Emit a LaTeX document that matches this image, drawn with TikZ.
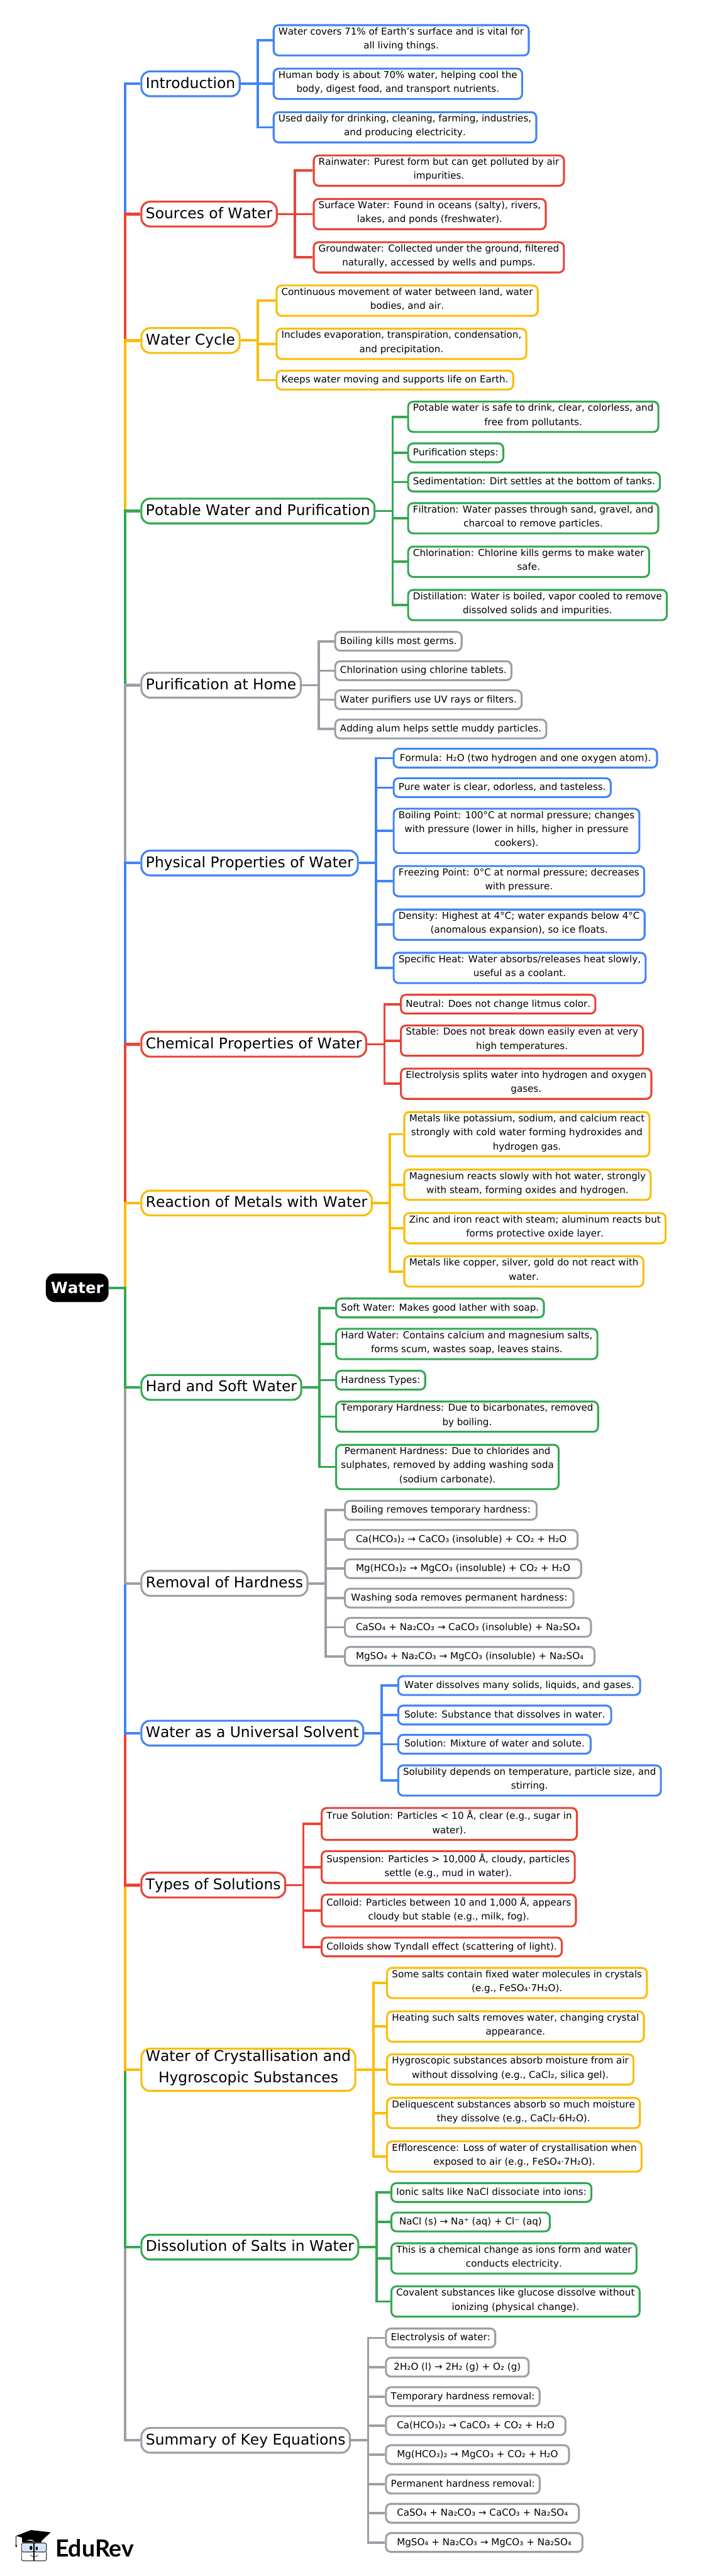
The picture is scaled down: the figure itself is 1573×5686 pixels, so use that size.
\documentclass[tikz,border=0pt]{standalone}
\usepackage{fontspec}
\setmainfont{DejaVu Sans}[Kerning=Off]
\newfontfamily\logofont{Lato}
\definecolor{cblue}{HTML}{4285F4}
\definecolor{cred}{HTML}{EA4335}
\definecolor{cyell}{HTML}{FBBC04}
\definecolor{cgreen}{HTML}{34A853}
\definecolor{cgrey}{HTML}{9AA0A6}
\begin{document}
\begin{tikzpicture}[
x=1pt,y=-1pt,
leaf/.style={draw=#1, fill=white, line width=4.3pt, rounded corners=11pt, anchor=west, align=center,
  inner xsep=10.8pt, inner ysep=5.3pt, font=\fontsize{21}{31}\selectfont,
  execute at begin node=\strut, execute at end node=\strut},
wide/.style={inner xsep=13.5pt},
topic/.style={draw=#1, fill=white, line width=4.3pt, rounded corners=19pt, anchor=west, align=center,
  inner xsep=9.8pt, inner ysep=3.6pt, font=\fontsize{32.5}{47.5}\selectfont,
  execute at begin node=\strut, execute at end node=\strut},
wire/.style={color=#1, line width=5.2pt},
elbow/.style={to path={(\tikztostart.east) -- ++(#1,0) |- (\tikztotarget.west)}},
elbow/.default=38,
]
\useasboundingbox (0,0) rectangle (1573,5686);

\node[fill=black, text=white, rounded corners=20pt, anchor=west, inner xsep=11pt, inner ysep=0pt,
  minimum height=63pt, font=\fontsize{34}{40}\selectfont\bfseries] (root) at (101,2842.5) {Water};

\node[topic=cblue] (intro) at (310,185) {Introduction};
\node[leaf=cblue] (a1) at (602,89) {Water covers 71\% of Earth's surface and is vital for\\all living things.};
\node[leaf=cblue] (a2) at (602,185) {Human body is about 70\% water, helping cool the\\body, digest food, and transport nutrients.};
\node[leaf=cblue] (a3) at (602,281) {Used daily for drinking, cleaning, farming, industries,\\and producing electricity.};

\node[topic=cred] (srcs) at (310,472.5) {Sources of Water};
\node[leaf=cred] (b1) at (690.5,376.5) {Rainwater: Purest form but can get polluted by air\\impurities.};
\node[leaf=cred] (b2) at (690.5,472.5) {Surface Water: Found in oceans (salty), rivers,\\lakes, and ponds (freshwater).};
\node[leaf=cred] (b3) at (690.5,568) {Groundwater: Collected under the ground, filtered\\naturally, accessed by wells and pumps.};

\node[topic=cyell] (cycle) at (310,751.5) {Water Cycle};
\node[leaf=cyell] (c1) at (608.5,663.5) {Continuous movement of water between land, water\\bodies, and air.};
\node[leaf=cyell] (c2) at (608.5,759) {Includes evaporation, transpiration, condensation,\\and precipitation.};
\node[leaf=cyell] (c3) at (608.5,839) {Keeps water moving and supports life on Earth.};

\node[topic=cgreen] (pot) at (310,1128) {Potable Water and Purification};
\node[leaf=cgreen] (d1) at (899,920) {Potable water is safe to drink, clear, colorless, and\\free from pollutants.};
\node[leaf=cgreen] (d2) at (899,999.5) {Purification steps:};
\node[leaf=cgreen] (d3) at (899,1064) {Sedimentation: Dirt settles at the bottom of tanks.};
\node[leaf=cgreen] (d4) at (899,1144) {Filtration: Water passes through sand, gravel, and\\charcoal to remove particles.};
\node[leaf=cgreen] (d5) at (899,1240) {Chlorination: Chlorine kills germs to make water\\safe.};
\node[leaf=cgreen] (d6) at (899,1335.5) {Distillation: Water is boiled, vapor cooled to remove\\dissolved solids and impurities.};

\node[topic=cgrey] (home) at (310,1512.5) {Purification at Home};
\node[leaf=cgrey] (e1) at (738,1415.5) {Boiling kills most germs.};
\node[leaf=cgrey] (e2) at (738,1480.5) {Chlorination using chlorine tablets.};
\node[leaf=cgrey] (e3) at (738,1544.5) {Water purifiers use UV rays or filters.};
\node[leaf=cgrey] (e4) at (738,1609) {Adding alum helps settle muddy particles.};

\node[topic=cblue] (phys) at (310,1905) {Physical Properties of Water};
\node[leaf=cblue,wide] (f1) at (867,1673.5) {Formula: H₂O (two hydrogen and one oxygen atom).};
\node[leaf=cblue] (f2) at (867,1738.5) {Pure water is clear, odorless, and tasteless.};
\node[leaf=cblue] (f3) at (867,1834) {Boiling Point: 100°C at normal pressure; changes\\with pressure (lower in hills, higher in pressure\\cookers).};
\node[leaf=cblue] (f4) at (867,1945) {Freezing Point: 0°C at normal pressure; decreases\\with pressure.};
\node[leaf=cblue] (f5) at (867,2041) {Density: Highest at 4°C; water expands below 4°C\\(anomalous expansion), so ice floats.};
\node[leaf=cblue] (f6) at (867,2136.5) {Specific Heat: Water absorbs/releases heat slowly,\\useful as a coolant.};

\node[topic=cred] (chem) at (310,2305) {Chemical Properties of Water};
\node[leaf=cred] (g1) at (883,2216.5) {Neutral: Does not change litmus color.};
\node[leaf=cred] (g2) at (883,2297) {Stable: Does not break down easily even at very\\high temperatures.};
\node[leaf=cred] (g3) at (883,2392) {Electrolysis splits water into hydrogen and oxygen\\gases.};

\node[topic=cyell] (metal) at (310,2655.5) {Reaction of Metals with Water};
\node[leaf=cyell] (h1) at (890.5,2503.5) {Metals like potassium, sodium, and calcium react\\strongly with cold water forming hydroxides and\\hydrogen gas.};
\node[leaf=cyell] (h2) at (890.5,2615) {Magnesium reacts slowly with hot water, strongly\\with steam, forming oxides and hydrogen.};
\node[leaf=cyell] (h3) at (890.5,2711) {Zinc and iron react with steam; aluminum reacts but\\forms protective oxide layer.};
\node[leaf=cyell] (h4) at (890.5,2806.5) {Metals like copper, silver, gold do not react with\\water.};

\node[topic=cgreen] (hard) at (310,3062.5) {Hard and Soft Water};
\node[leaf=cgreen] (i1) at (740,2887) {Soft Water: Makes good lather with soap.};
\node[leaf=cgreen] (i2) at (740,2966.5) {Hard Water: Contains calcium and magnesium salts,\\forms scum, wastes soap, leaves stains.};
\node[leaf=cgreen] (i3) at (740,3046.5) {Hardness Types:};
\node[leaf=cgreen] (i4) at (740,3127) {Temporary Hardness: Due to bicarbonates, removed\\by boiling.};
\node[leaf=cgreen] (i5) at (740,3238) {Permanent Hardness: Due to chlorides and\\sulphates, removed by adding washing soda\\(sodium carbonate).};

\node[topic=cgrey] (rem) at (310,3495) {Removal of Hardness};
\node[leaf=cgrey,wide] (j1) at (759.5,3333.5) {Boiling removes temporary hardness:};
\node[leaf=cgrey] (j2) at (759.5,3398) {\ \ Ca(HCO₃)₂ → CaCO₃ (insoluble) + CO₂ + H₂O\ \ };
\node[leaf=cgrey] (j3) at (759.5,3462.5) {\ \ Mg(HCO₃)₂ → MgCO₃ (insoluble) + CO₂ + H₂O\ \ };
\node[leaf=cgrey,wide] (j4) at (759.5,3527.5) {Washing soda removes permanent hardness:};
\node[leaf=cgrey] (j5) at (759.5,3592) {\ \ CaSO₄ + Na₂CO₃ → CaCO₃ (insoluble) + Na₂SO₄\ \ };
\node[leaf=cgrey] (j6) at (759.5,3656) {\ \ MgSO₄ + Na₂CO₃ → MgCO₃ (insoluble) + Na₂SO₄\ \ };

\node[topic=cblue] (solv) at (310,3825.5) {Water as a Universal Solvent};
\node[leaf=cblue,wide] (k1) at (877,3720.5) {Water dissolves many solids, liquids, and gases.};
\node[leaf=cblue,wide] (k2) at (877,3785.5) {Solute: Substance that dissolves in water.};
\node[leaf=cblue,wide] (k3) at (877,3850) {Solution: Mixture of water and solute.};
\node[leaf=cblue] (k4) at (877,3930) {Solubility depends on temperature, particle size, and\\stirring.};

\node[topic=cred] (types) at (310,4161) {Types of Solutions};
\node[leaf=cred] (l1) at (708,4026) {True Solution: Particles < 10 Å, clear (e.g., sugar in\\water).};
\node[leaf=cred] (l2) at (708,4121) {Suspension: Particles > 10,000 Å, cloudy, particles\\settle (e.g., mud in water).};
\node[leaf=cred] (l3) at (708,4217) {Colloid: Particles between 10 and 1,000 Å, appears\\cloudy but stable (e.g., milk, fog).};
\node[leaf=cred] (l4) at (708,4297.5) {Colloids show Tyndall effect (scattering of light).};

\node[topic=cyell] (cryst) at (310,4568.5) {Water of Crystallisation and\\Hygroscopic Substances};
\node[leaf=cyell] (m1) at (852.5,4377) {Some salts contain fixed water molecules in crystals\\(e.g., FeSO₄·7H₂O).};
\node[leaf=cyell] (m2) at (852.5,4473) {Heating such salts removes water, changing crystal\\appearance.};
\node[leaf=cyell] (m3) at (852.5,4568) {Hygroscopic substances absorb moisture from air\\without dissolving (e.g., CaCl₂, silica gel).};
\node[leaf=cyell] (m4) at (852.5,4664) {Deliquescent substances absorb so much moisture\\they dissolve (e.g., CaCl₂·6H₂O).};
\node[leaf=cyell] (m5) at (852.5,4760) {Efflorescence: Loss of water of crystallisation when\\exposed to air (e.g., FeSO₄·7H₂O).};

\node[topic=cgreen] (diss) at (310,4960) {Dissolution of Salts in Water};
\node[leaf=cgreen] (n1) at (862,4839.5) {Ionic salts like NaCl dissociate into ions:};
\node[leaf=cgreen] (n2) at (862,4904.5) {\ NaCl (s) → Na⁺ (aq) + Cl⁻ (aq)\ };
\node[leaf=cgreen] (n3) at (862,4985) {This is a chemical change as ions form and water\\conducts electricity.};
\node[leaf=cgreen] (n4) at (862,5080) {Covalent substances like glucose dissolve without\\ionizing (physical change).};

\node[topic=cgrey] (eqs) at (310,5386.5) {Summary of Key Equations};
\node[leaf=cgrey] (o1) at (850,5160.5) {Electrolysis of water:};
\node[leaf=cgrey] (o2) at (850,5225) {\ 2H₂O (l) → 2H₂ (g) + O₂ (g)\ };
\node[leaf=cgrey] (o3) at (850,5290) {Temporary hardness removal:};
\node[leaf=cgrey] (o4) at (850,5354) {\ \ Ca(HCO₃)₂ → CaCO₃ + CO₂ + H₂O\ \ };
\node[leaf=cgrey] (o5) at (850,5418) {\ \ Mg(HCO₃)₂ → MgCO₃ + CO₂ + H₂O\ \ };
\node[leaf=cgrey] (o6) at (850,5483) {Permanent hardness removal:};
\node[leaf=cgrey] (o7) at (850,5547.5) {\ \ CaSO₄ + Na₂CO₃ → CaCO₃ + Na₂SO₄\ \ };
\node[leaf=cgrey] (o8) at (850,5612) {\ \ MgSO₄ + Na₂CO₃ → MgCO₃ + Na₂SO₄\ \ };

\path[wire=cblue] (intro) edge[elbow] (a1) (intro) edge[elbow] (a2) (intro) edge[elbow] (a3);
\path[wire=cred] (srcs) edge[elbow] (b1) (srcs) edge[elbow] (b2) (srcs) edge[elbow] (b3);
\path[wire=cyell] (cycle) edge[elbow] (c1) (cycle) edge[elbow] (c2) (cycle) edge[elbow] (c3);
\path[wire=cgreen] (pot) edge[elbow] (d1) (pot) edge[elbow] (d2) (pot) edge[elbow] (d3)
(pot) edge[elbow] (d4) (pot) edge[elbow] (d5) (pot) edge[elbow] (d6);
\path[wire=cgrey] (home) edge[elbow] (e1) (home) edge[elbow] (e2) (home) edge[elbow] (e3) (home) edge[elbow] (e4);
\path[wire=cblue] (phys) edge[elbow] (f1) (phys) edge[elbow] (f2) (phys) edge[elbow] (f3)
(phys) edge[elbow] (f4) (phys) edge[elbow] (f5) (phys) edge[elbow] (f6);
\path[wire=cred] (chem) edge[elbow] (g1) (chem) edge[elbow] (g2) (chem) edge[elbow] (g3);
\path[wire=cyell] (metal) edge[elbow] (h1) (metal) edge[elbow] (h2) (metal) edge[elbow] (h3) (metal) edge[elbow] (h4);
\path[wire=cgreen] (hard) edge[elbow] (i1) (hard) edge[elbow] (i2) (hard) edge[elbow] (i3)
(hard) edge[elbow] (i4) (hard) edge[elbow] (i5);
\path[wire=cgrey] (rem) edge[elbow] (j1) (rem) edge[elbow] (j2) (rem) edge[elbow] (j3)
(rem) edge[elbow] (j4) (rem) edge[elbow] (j5) (rem) edge[elbow] (j6);
\path[wire=cblue] (solv) edge[elbow] (k1) (solv) edge[elbow] (k2) (solv) edge[elbow] (k3) (solv) edge[elbow] (k4);
\path[wire=cred] (types) edge[elbow] (l1) (types) edge[elbow] (l2) (types) edge[elbow] (l3) (types) edge[elbow] (l4);
\path[wire=cyell] (cryst) edge[elbow] (m1) (cryst) edge[elbow] (m2) (cryst) edge[elbow] (m3)
(cryst) edge[elbow] (m4) (cryst) edge[elbow] (m5);
\path[wire=cgreen] (diss) edge[elbow] (n1) (diss) edge[elbow] (n2) (diss) edge[elbow] (n3) (diss) edge[elbow] (n4);
\path[wire=cgrey] (eqs) edge[elbow] (o1) (eqs) edge[elbow] (o2) (eqs) edge[elbow] (o3) (eqs) edge[elbow] (o4)
(eqs) edge[elbow] (o5) (eqs) edge[elbow] (o6) (eqs) edge[elbow] (o7) (eqs) edge[elbow] (o8);

\path[line width=6pt]
(root) edge[elbow=36,cblue] (intro)
(root) edge[elbow=36,cred] (srcs)
(root) edge[elbow=36,cyell] (cycle)
(root) edge[elbow=36,cgreen] (pot)
(root) edge[elbow=36,cgrey] (home)
(root) edge[elbow=36,cblue] (phys)
(root) edge[elbow=36,cred] (chem)
(root) edge[elbow=36,cyell] (metal)
(root) edge[elbow=36,cgrey] (eqs)
(root) edge[elbow=36,cgreen] (diss)
(root) edge[elbow=36,cyell] (cryst)
(root) edge[elbow=36,cred] (types)
(root) edge[elbow=36,cblue] (solv)
(root) edge[elbow=36,cgrey] (rem)
(root) edge[elbow=36,cgreen] (hard)
;

\node[anchor=base west, inner sep=0pt, font=\fontsize{52}{60}\selectfont\logofont\bfseries] (brand) at (122,5643) {EduRev};
\fill[black] (35,5597.5) -- (68.5,5584.5) -- (112,5589.5) -- (92,5608) -- (91,5612) -- (49,5612) -- (48.5,5601) -- cycle;
\draw[black,line width=1pt] (35.5,5598) -- (35.5,5618);
\fill[black] (33.5,5618) -- (38,5618) -- (36,5623) -- cycle;
\fill[white] (58,5608) .. controls (66,5604) and (72,5606) .. (76,5610) .. controls (70,5608) and (64,5607) .. (58,5608) -- cycle;
\draw[black,line width=1.2pt,fill=cblue!22,rounded corners=4pt] (47.5,5613) rectangle (75,5633);
\draw[black,line width=1.2pt,fill=cblue!22,rounded corners=4pt] (75,5613) rectangle (102.5,5633);
\draw[black,line width=1.2pt,rounded corners=4pt] (47.5,5633) -- (47.5,5652.5) -- (102.5,5652.5) -- (102.5,5633);
\draw[black,line width=1.5pt] (75,5612) -- (75,5653);
\fill[black] (68.5,5624) ellipse (3.2 and 4.5);
\fill[black] (81,5625) ellipse (2.6 and 4);
\draw[black,line width=1pt] (67,5640) .. controls (72,5644) and (79,5644) .. (84,5640);
\end{tikzpicture}
\end{document}
